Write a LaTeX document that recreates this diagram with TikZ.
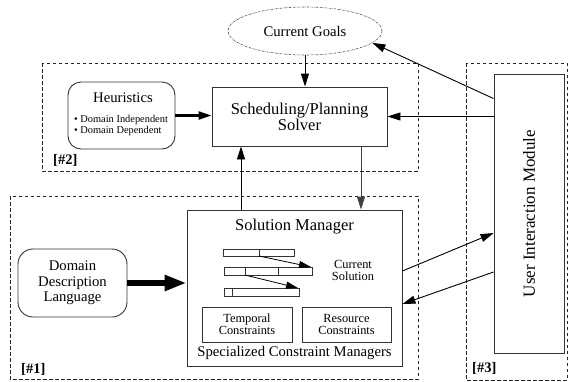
\documentclass[tikz,border=0pt]{standalone}
\usepackage{fontspec}
\setmainfont{Liberation Serif}
\usetikzlibrary{arrows.meta,calc,positioning,shapes.geometric}
\tikzset{
    mybox/.style={rectangle,draw=black!80,line width=0.9pt,inner sep=2pt},
    myround/.style={mybox,rounded corners=13pt},
    myregion/.style={draw=black!85,line width=0.7pt,dash pattern=on 3.5pt off 2.5pt},
    mygoal/.style={ellipse,draw=black!70,line width=0.6pt,dash pattern=on 2pt off 1pt on 0.5pt off 1pt},
    myedge/.style={line width=0.9pt,-{Triangle[length=13pt,width=8pt]}},
    mybar/.style={draw=black!80,line width=0.7pt},
    mylabel/.style={font=\fontsize{14.5}{15}\selectfont\bfseries,inner sep=0pt,anchor=west},
    bigtext/.style={font=\fontsize{16.5}{16}\selectfont},
    midtext/.style={font=\fontsize{14.7}{15.5}\selectfont},
    smalltext/.style={font=\fontsize{12.4}{12.5}\selectfont},
    listtext/.style={font=\fontsize{10.4}{11}\selectfont}
}

\begin{document}
\begin{tikzpicture}[x=1pt,y=-1pt]
  \useasboundingbox (0,0) rectangle (568,381);

  % the three parts of the system
  \draw[myregion] (42,63) rectangle (418,171);
  \draw[myregion] (10,196) rectangle (418,379);
  \draw[myregion] (466,63) rectangle (567,380);

  \node[mylabel] (lab2) at (53,160) {[\#2]};
  \node[mylabel] (lab1) at (21,369) {[\#1]};
  \node[mylabel] (lab3) at (472,368) {[\#3]};

  \node[mygoal,midtext,minimum width=154pt,minimum height=48pt]
    (goals) at (305,31) {Current Goals};

  \node[mybox,bigtext,align=center,minimum width=175pt,minimum height=59pt]
    (solver) at (299.5,116.5) {Scheduling/Planning\\Solver};

  \node[myround,midtext,minimum width=107pt,minimum height=67pt]
    (heur) at (121.5,115.5) {};
  \node[midtext] (heurtitle) at (123,98) {Heuristics};
  \node[listtext,align=left,anchor=west,inner sep=0pt] (heurlist) at (74,125.5)
    {\textbullet\ Domain Independent\\\textbullet\ Domain Dependent};

  \node[myround,midtext,rounded corners=15pt,align=center,
    minimum width=109pt,minimum height=68pt]
    (ddl) at (72.5,283) {Domain\\Description\\Language};

  \node[mybox,minimum width=215pt,minimum height=156pt] (manager) at (294.5,288) {};
  \node[bigtext] (mantitle) at ([yshift=-17pt]manager.north) {Solution Manager};
  \node[midtext] (specs) at ([yshift=13pt]manager.south) {Specialized Constraint Managers};

  \node[mybox,smalltext,align=center,minimum width=90pt,minimum height=35pt]
    (temporal) at (247,324.5) {Temporal\\Constraints};
  \node[mybox,smalltext,align=center,minimum width=89pt,minimum height=35pt]
    (resource) at (346.5,324.5) {Resource\\Constraints};
  \node[smalltext,align=center] (cursol) at (353,270.5) {Current\\Solution};

  % partial schedule
  \draw[mybar] (223,249) rectangle (294,256) (259,249) -- (259,256);
  \draw[mybar] (224,267) rectangle (312,275) (245,267) -- (245,275)
    (278,267) -- (278,275);
  \draw[mybar] (224,288) rectangle (299,296) (232,288) -- (232,296);
  \coordinate (s1) at (259,256);
  \coordinate (t1) at (311,267);
  \coordinate (s2) at (245,275);
  \coordinate (t2) at (298,288);
  \draw[line width=0.8pt,-{Triangle[length=12pt,width=7pt]}] (s1) -- (t1);
  \draw[line width=0.8pt,-{Triangle[length=12pt,width=7pt]}] (s2) -- (t2);

  \node[mybox,minimum width=70pt,minimum height=279pt] (uim) at (529,213.5) {};
  \node[rotate=90,font=\fontsize{17}{17}\selectfont] (uimtext) at (uim.center)
    {User Interaction Module};

  % connections
  \coordinate (up) at ([xshift=-58.5pt]solver.south);
  \coordinate (down) at ([xshift=61.5pt]solver.south);

  \draw[myedge] (goals.south) -- (goals.south |- solver.north);
  \draw[myedge,line width=2.2pt] (heur.east) -- (heur.east -| solver.west);
  \draw[myedge] (uim.west |- solver.east) -- (solver.east);
  \draw[myedge] ([yshift=-25pt]uim.north west) -- (goals.-10);
  \draw[myedge] (up |- manager.north) -- (up);
  \draw[myedge,draw=black!75] (down) -- (down |- manager.north);
  \draw[line width=6pt,-{Triangle[length=22pt,width=15pt]}]
    (ddl.east) -- (ddl.east -| manager.west);
  \draw[myedge] ([yshift=17pt]manager.east) -- ([yshift=-19.5pt]uim.west);
  \draw[myedge] ([yshift=-58.5pt]uim.west) -- ([yshift=-16pt]manager.east);
\end{tikzpicture}
\end{document}
